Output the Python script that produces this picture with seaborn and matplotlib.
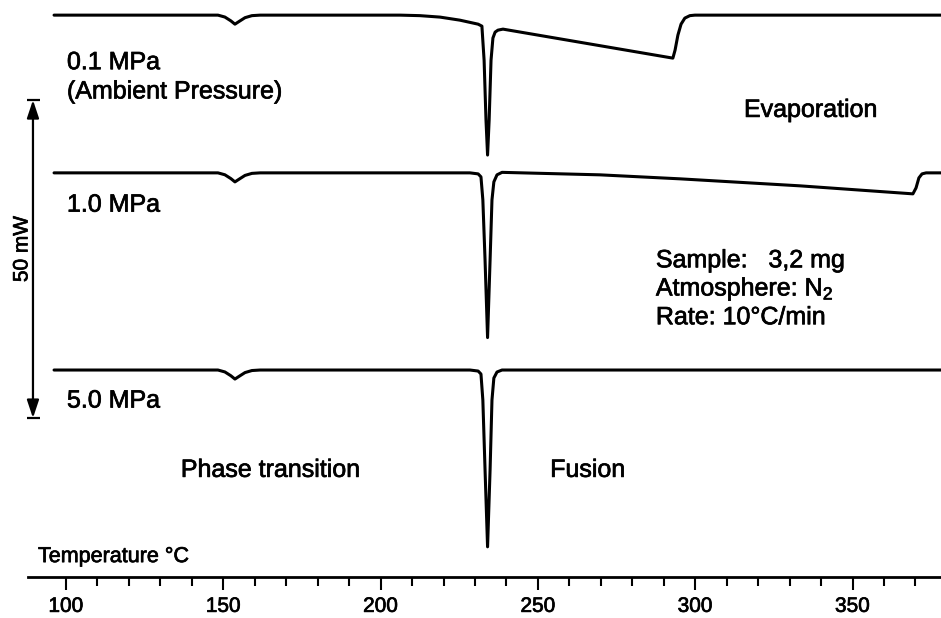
import matplotlib
matplotlib.use("Agg")
import matplotlib.pyplot as plt
import matplotlib.patheffects as pe
import numpy as np
import pandas as pd
import seaborn as sns
from matplotlib.ticker import FixedLocator

# ---------------- data ----------------
PRESSURES = ["0.1 MPa", "1.0 MPa", "5.0 MPa"]

# temperature (deg C) and heat-flow deflection from baseline (mW), per trace
T_01 = [96.2, 148.3, 150.5, 152.4, 153.7, 155.0, 156.9, 159.1, 161.7, 206.2, 212.5,
        218.9, 225.2, 231.0, 232.2, 232.9, 233.5, 234.0, 234.5, 235.1, 235.7, 236.4,
        237.3, 238.9, 292.9, 293.6, 294.5, 295.5, 296.7, 298.3, 299.9, 378.1]
Q_01 = [0.0, 0.0, -0.30, -0.90, -1.42, -1.00, -0.40, -0.08, 0.0, 0.0, -0.08,
        -0.31, -0.79, -1.42, -1.73, -7.1, -16.5, -22.0, -16.5, -7.1, -3.6, -2.67,
        -2.36, -2.20, -6.76, -5.50, -3.14, -1.42, -0.47, -0.08, 0.0, 0.0]

T_10 = [96.2, 148.3, 150.5, 152.4, 153.7, 155.0, 156.9, 159.1, 161.7, 228.4, 231.0,
        231.9, 232.5, 233.2, 234.0, 234.8, 235.4, 236.0, 237.0, 238.6, 269.7, 295.2,
        333.3, 369.2, 370.2, 371.1, 372.1, 373.4, 378.1]
Q_10 = [0.0, 0.0, -0.30, -0.90, -1.42, -1.00, -0.40, -0.08, 0.0, 0.0, -0.16,
        -0.63, -4.25, -13.7, -25.9, -13.7, -4.25, -1.42, -0.31, 0.08, -0.31, -0.94,
        -2.04, -3.30, -2.36, -0.79, -0.16, 0.0, 0.0]

T_50 = [96.2, 148.3, 150.5, 152.4, 153.7, 155.0, 156.9, 159.1, 161.7, 228.4, 231.0,
        231.9, 232.5, 233.2, 234.0, 234.8, 235.4, 236.0, 237.0, 238.6, 378.1]
Q_50 = [0.0, 0.0, -0.30, -0.90, -1.42, -1.00, -0.40, -0.08, 0.0, 0.0, -0.16,
        -0.63, -4.72, -15.7, -27.8, -15.7, -4.72, -1.26, -0.31, 0.0, 0.0]

OFFSETS_MW = [55.8, 31.0, 0.0]   # vertical stacking of the traces

MAJOR_TICKS = [100, 150, 200, 250, 300, 350]
MINOR_TICKS = [t for t in range(110, 371, 10) if t % 50]
SCALE_MW = 50

# ---------------- build table ----------------
frames = []
for name, T, Q, off in zip(PRESSURES, [T_01, T_10, T_50], [Q_01, Q_10, Q_50], OFFSETS_MW):
    frames.append(pd.DataFrame({"T": T, "Y": np.array(Q) + off, "curve": name}))
df = pd.concat(frames, ignore_index=True)

# ---------------- style ----------------
sns.set_theme(style="white")
plt.rcParams["font.family"] = ["Liberation Sans", "DejaVu Sans"]
plt.rcParams["text.color"] = "black"
plt.rcParams["mathtext.fontset"] = "custom"
plt.rcParams["mathtext.rm"] = "Liberation Sans"
plt.rcParams["mathtext.it"] = "Liberation Sans:italic"
plt.rcParams["mathtext.bf"] = "Liberation Sans:bold"

stroke = [pe.withStroke(linewidth=0.5, foreground="black")]

fig = plt.figure(figsize=(9.41, 6.18), dpi=100)
fig.patch.set_facecolor("white")
ax = fig.add_axes([0, 0, 1, 1])
ax.set_facecolor("white")

sns.lineplot(data=df, x="T", y="Y", units="curve", estimator=None, sort=False,
             color="black", linewidth=2.2, ax=ax, legend=False)

ax.set_xlim(79.02, 378.13)
ax.set_ylim(-38.99, 58.18)
ax.set_xlabel("")
ax.set_ylabel("")
ax.set_yticks([])

for s in ["top", "right", "left"]:
    ax.spines[s].set_visible(False)
ax.spines["bottom"].set_position(("data", -32.5))
ax.spines["bottom"].set_bounds(87.9, 378.13)
ax.spines["bottom"].set_linewidth(2.0)
ax.spines["bottom"].set_color("black")

ax.xaxis.set_major_locator(FixedLocator(MAJOR_TICKS))
ax.xaxis.set_minor_locator(FixedLocator(MINOR_TICKS))
ax.set_xticklabels([str(t) for t in MAJOR_TICKS])
ax.tick_params(axis="x", which="major", direction="out", length=9.5, width=1.5,
               color="black", labelcolor="black", labelsize=15, pad=5, bottom=True)
ax.tick_params(axis="x", which="minor", direction="out", length=6.5, width=1.5,
               color="black", bottom=True)
for lab in ax.get_xticklabels():
    lab.set_path_effects(stroke)

# ---------------- annotations ----------------
fs = 18
kw = dict(fontsize=fs, va="baseline", color="black", path_effects=stroke)
ax.text(100.3, 47.3, "0.1 MPa", **kw)
ax.text(100.3, 42.7, "(Ambient Pressure)", **kw)
ax.text(100.3, 24.9, "1.0 MPa", **kw)
ax.text(100.3, -5.9, "5.0 MPa", **kw)
ax.text(315.5, 39.8, "Evaporation", **kw)
ax.text(287.5, 16.15, "Sample:   3,2 mg", **kw)
ax.text(287.5, 11.7, "Atmosphere: N$_2$", **kw)
ax.text(287.5, 7.2, "Rate: 10°C/min", **kw)
ax.text(136.5, -16.8, "Phase transition", **kw)
ax.text(253.9, -16.8, "Fusion", **kw)
ax.text(91.1, -30.2, "Temperature °C", fontsize=15.5, va="baseline", color="black",
        path_effects=stroke)

# 50 mW scale bar
bar_x = 89.5
bar_top = 42.45
bar_bot = bar_top - SCALE_MW
ax.annotate("", xy=(bar_x, bar_top), xytext=(bar_x, bar_bot),
            arrowprops=dict(arrowstyle="<|-|>,head_length=0.9,head_width=0.3",
                            color="black", lw=1.6, shrinkA=0, shrinkB=0))
ax.hlines([bar_top, bar_bot], bar_x - 1.9, bar_x + 2.2, color="black", lw=1.6)
ax.text(86.0, (bar_top + bar_bot) / 2 + 1.6, f"{SCALE_MW} mW", rotation=90,
        ha="center", va="center", fontsize=15, color="black", path_effects=stroke)

fig.savefig("out.png", dpi=100, facecolor="white")
